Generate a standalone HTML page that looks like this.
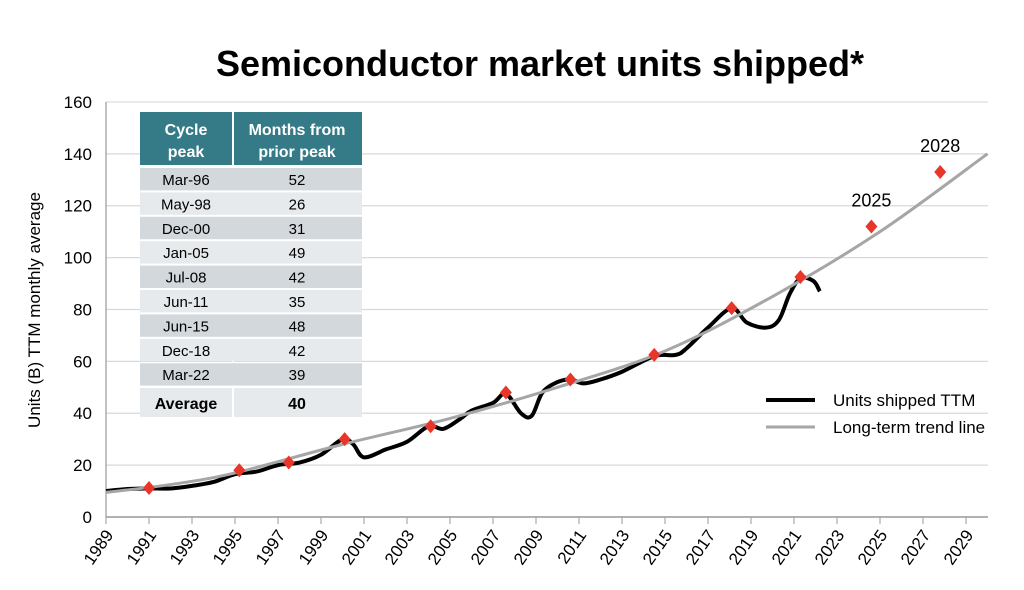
<!DOCTYPE html>
<html><head><meta charset="utf-8"><style>
body{margin:0;background:#fff;}
svg{display:block;font-family:"Liberation Sans",Arial,sans-serif;}
</style></head><body>
<svg id="c" width="1024" height="590">
<text x="540" y="76" text-anchor="middle" font-size="36" font-weight="bold" fill="#000">Semiconductor market units shipped*</text>
<text transform="translate(40,310) rotate(-90)" text-anchor="middle" font-size="17" fill="#000">Units (B) TTM monthly average</text>
<g id="grid"></g><g id="axes"></g><g id="tbl"></g><g id="series"></g><g id="legend"></g>
</svg>
<script>
const yTicks=[0,20,40,60,80,100,120,140,160];
const xTicks=[1989,1991,1993,1995,1997,1999,2001,2003,2005,2007,2009,2011,2013,2015,2017,2019,2021,2023,2025,2027,2029];
const unitYears=[1989,1990,1991,1992,1993,1994,1995,1996,1997,1998,1999,2000,2000.5,2001,2002,2003,2004,2004.7,2005.5,2006,2007,2007.6,2008.3,2008.8,2009.3,2010,2010.6,2011.2,2012,2013,2014.5,2015.5,2016,2017,2018.1,2018.8,2019.7,2020.3,2020.8,2021.3,2021.9,2022.2];
const unitValues=[10,10.8,11,11,12,13.5,16.5,17.5,20,21,24,30,28,23,26,29,35,34,38,41,44,47.5,40,39,48,52,53,51.5,53,56,62,62.5,65,73,80.5,75,73,76,86,92,91,87];
const trendYears=[1989,1992,1995,2000,2005,2010,2015,2020,2025,2030];
const trendValues=[9.5,12.5,17,28,38,50,64,85,110,140];
const peakYears=[1991,1995.2,1997.5,2000.1,2004.1,2007.6,2010.6,2014.5,2018.1,2021.3,2024.6,2027.8];
const peakValues=[11.2,18,21,30,35,48,53,62.5,80.5,92.5,112,133];
const cyclePeaks=["Mar-96","May-98","Dec-00","Jan-05","Jul-08","Jun-11","Jun-15","Dec-18","Mar-22"];
const monthsFromPrior=[52,26,31,49,42,35,48,42,39];
const NS="http://www.w3.org/2000/svg";
const X=y=>106+21.5*(y-1989), Y=v=>517-v*2.594;
function mk(p,t,a){const e=document.createElementNS(NS,t);for(const k in a)e.setAttribute(k,a[k]);p.appendChild(e);return e;}
const grid=document.getElementById('grid'),axes=document.getElementById('axes');
yTicks.forEach(v=>{
 if(v>0){const l=mk(grid,'line',{x1:106,x2:988,y1:Y(v),y2:Y(v),stroke:'#d9d9d9','stroke-width':1.2});
 
 }
 const t=mk(axes,'text',{x:92,y:Y(v)+6,'text-anchor':'end','font-size':17});t.textContent=v;
 
 
});
const ax=mk(axes,'line',{x1:106,x2:988,y1:517,y2:517,stroke:'#999','stroke-width':1.5});


const ay=mk(axes,'line',{x1:106,x2:106,y1:102,y2:517,stroke:'#999','stroke-width':1.2});


xTicks.forEach(y=>{
 mk(axes,'line',{x1:X(y),x2:X(y),y1:517,y2:524,stroke:'#999'});
 const t=mk(axes,'text',{transform:`translate(${X(y)+8},${535}) rotate(-55)`,'text-anchor':'end','font-size':17});t.textContent=y;
 
 
});
const tb=document.getElementById('tbl');
const h=mk(tb,'rect',{x:140,y:112,width:222,height:53,fill:'#357a87'});


mk(tb,'line',{x1:233,x2:233,y1:112,y2:417,stroke:'#fff','stroke-width':2});
[["Cycle",186,135],["peak",186,157],["Months from",297,135],["prior peak",297,157]].forEach(a=>{const t=mk(tb,'text',{x:a[1],y:a[2],'text-anchor':'middle','font-size':16,'font-weight':'bold',fill:'#fff'});t.textContent=a[0];
 
 });
cyclePeaks.forEach((c,i)=>{const y0=168+i*24.4;
 const r=mk(tb,'rect',{x:140,y:y0,width:222,height:22.4,fill:i%2?'#e6eaec':'#d3d8dc'});
 
 
 const t1=mk(tb,'text',{x:186,y:y0+17,'text-anchor':'middle','font-size':15});t1.textContent=c;
 
 
 const t2=mk(tb,'text',{x:297,y:y0+17,'text-anchor':'middle','font-size':15});t2.textContent=monthsFromPrior[i];
 
 
});
mk(tb,'rect',{x:140,y:388,width:222,height:29,fill:'#e6eaec'});
mk(tb,'line',{x1:233,x2:233,y1:388,y2:417,stroke:'#fff','stroke-width':2});
const av=mk(tb,'text',{x:186,y:409,'text-anchor':'middle','font-size':16,'font-weight':'bold'});av.textContent='Average';


const avv=mk(tb,'text',{x:297,y:409,'text-anchor':'middle','font-size':16,'font-weight':'bold'});
avv.textContent=Math.round(monthsFromPrior.reduce((a,b)=>a+b,0)/monthsFromPrior.length);


const s=document.getElementById('series');
function smooth(xs,vs){const p=xs.map((x,i)=>[X(x),Y(vs[i])]);let d=`M${p[0][0]},${p[0][1]}`;
 for(let i=0;i<p.length-1;i++){const p0=p[i-1]||p[i],p1=p[i],p2=p[i+1],p3=p[i+2]||p2;
 d+=` C${p1[0]+(p2[0]-p0[0])/6},${p1[1]+(p2[1]-p0[1])/6} ${p2[0]-(p3[0]-p1[0])/6},${p2[1]-(p3[1]-p1[1])/6} ${p2[0]},${p2[1]}`;}return d;}
const u=mk(s,'path',{d:smooth(unitYears,unitValues),fill:'none',stroke:'#000','stroke-width':4,'stroke-linejoin':'round'});


const tr=mk(s,'path',{d:smooth(trendYears,trendValues),fill:'none',stroke:'#a6a6a6','stroke-width':3});


peakYears.forEach((y,i)=>{const cx=X(y),cy=Y(peakValues[i]);
 const d=mk(s,'polygon',{points:`${cx},${cy-7} ${cx+6},${cy} ${cx},${cy+7} ${cx-6},${cy}`,fill:'#e8362a'});
 
 });
[["2025",2024.6,112],["2028",2027.8,133]].forEach(a=>{const t=mk(s,'text',{x:X(a[1]),y:Y(a[2])-20,'text-anchor':'middle','font-size':18});t.textContent=a[0];
 
 });
const lg=document.getElementById('legend');
mk(lg,'line',{x1:766,x2:815,y1:400,y2:400,stroke:'#000','stroke-width':4});
mk(lg,'line',{x1:766,x2:815,y1:427,y2:427,stroke:'#a6a6a6','stroke-width':3});
const l1=mk(lg,'text',{x:833,y:406,'font-size':17});l1.textContent='Units shipped TTM';


const l2=mk(lg,'text',{x:833,y:433,'font-size':17});l2.textContent='Long-term trend line';


</script>
</body></html>
